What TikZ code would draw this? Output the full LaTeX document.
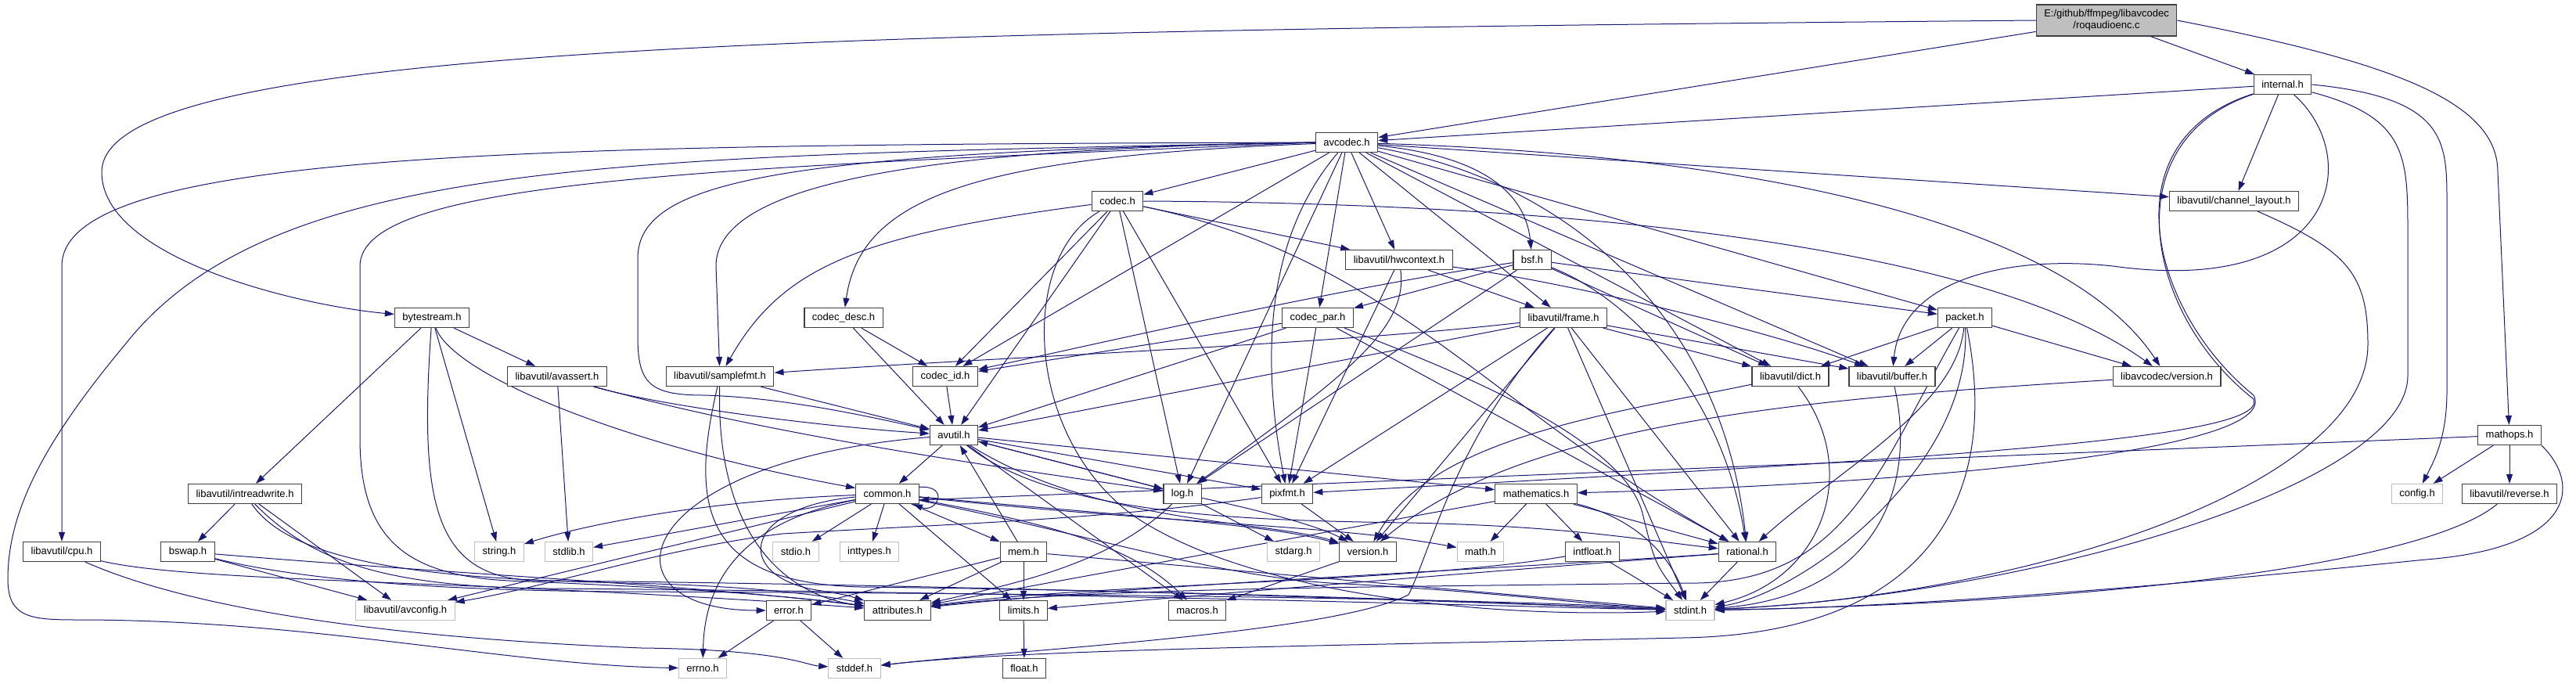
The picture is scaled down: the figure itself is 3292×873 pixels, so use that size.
\documentclass[tikz,border=0pt]{standalone}
\usepackage{fontspec}
\setmainfont{Liberation Sans}
\usepackage{xcolor}
\definecolor{edgeblue}{HTML}{191970}
\definecolor{nodeline}{HTML}{404040}
\definecolor{sysline}{HTML}{BFBFBF}
\definecolor{rootfill}{HTML}{BFBFBF}
\usepackage{tikz}
\usetikzlibrary{arrows.meta}
\pgfdeclarelayer{edges}
\pgfsetlayers{edges,main}

\begin{document}
\begin{tikzpicture}[
  x=1pt, y=-1pt,
  box/.style={draw=nodeline, fill=white, line width=1.2pt,
              font=\fontsize{13}{15}\selectfont,
              inner xsep=10pt, inner ysep=0pt, minimum height=25pt},
  sysbox/.style={box, draw=sysline},
  rootbox/.style={box, fill=rootfill, align=center, minimum height=40pt},
  arr/.style={->, >={Triangle[length=12pt, width=8pt]}, color=edgeblue, line width=1pt}
]
  \useasboundingbox (0,0) rectangle (3292,873);

  \node[rootbox] (root) at (2692,26) {E:/github/ffmpeg/libavcodec\\/roqaudioenc.c};
  \node[box] (intl)  at (2917,108) {internal.h};
  \node[box] (avc)   at (1721,182) {avcodec.h};
  \node[box] (cdc)   at (1428,257) {codec.h};
  \node[box] (chl)   at (2855,257) {libavutil/channel\_layout.h};
  \node[box] (hw)    at (1788,332) {libavutil/hwcontext.h};
  \node[box] (bsf)   at (1958,332) {bsf.h};
  \node[box] (bs)    at (552,406)  {bytestream.h};
  \node[box] (cdesc) at (1078,406) {codec\_desc.h};
  \node[box] (cpar)  at (1684,406) {codec\_par.h};
  \node[box] (frm)   at (1998,406) {libavutil/frame.h};
  \node[box] (pkt)   at (2511,406) {packet.h};
  \node[box] (asrt)  at (712,481)  {libavutil/avassert.h};
  \node[box] (sfmt)  at (920,481)  {libavutil/samplefmt.h};
  \node[box] (cid)   at (1208,481) {codec\_id.h};
  \node[box] (dict)  at (2288,481) {libavutil/dict.h};
  \node[box] (buf)   at (2418,481) {libavutil/buffer.h};
  \node[box] (lver)  at (2769,481) {libavcodec/version.h};
  \node[box] (avu)   at (1219,556) {avutil.h};
  \node[box] (mops)  at (3207,556) {mathops.h};
  \node[box] (irw)   at (313,631)  {libavutil/intreadwrite.h};
  \node[box] (cmn)   at (1134,631) {common.h};
  \node[box] (log)   at (1511,631) {log.h};
  \node[box] (pix)   at (1645,631) {pixfmt.h};
  \node[box] (mth)   at (1963,631) {mathematics.h};
  \node[sysbox] (cfg) at (3089,631) {config.h};
  \node[box] (rev)   at (3207,631) {libavutil/reverse.h};
  \node[box] (cpu)   at (79,705)   {libavutil/cpu.h};
  \node[box] (bsw)   at (240,705)  {bswap.h};
  \node[sysbox] (str)  at (638,705)  {string.h};
  \node[sysbox] (slib) at (727,705)  {stdlib.h};
  \node[sysbox] (sio)  at (1017,705) {stdio.h};
  \node[sysbox] (ity)  at (1111,705) {inttypes.h};
  \node[box] (mem)   at (1308,705) {mem.h};
  \node[sysbox] (sarg) at (1653,705) {stdarg.h};
  \node[box] (ver)   at (1748,705) {version.h};
  \node[sysbox] (math) at (1892,705) {math.h};
  \node[box] (iflt)  at (2035,705) {intfloat.h};
  \node[box] (rat)   at (2233,705) {rational.h};
  \node[sysbox] (acfg) at (518,780)  {libavutil/avconfig.h};
  \node[box] (err)   at (1008,780) {error.h};
  \node[box] (attr)  at (1147,780) {attributes.h};
  \node[box] (lim)   at (1308,780) {limits.h};
  \node[box] (mac)   at (1530,780) {macros.h};
  \node[sysbox] (sint) at (2160,780) {stdint.h};
  \node[sysbox] (eno)  at (898,854)  {errno.h};
  \node[sysbox] (sdef) at (1092,854) {stddef.h};
  \node[box] (flt)   at (1309,854) {float.h};

  \begin{pgfonlayer}{edges}
  \draw[arr] (root) -- (avc);
  \draw[arr] (root) -- (intl);
  \draw[arr] (root.west) .. controls (1000,40) and (130,60) .. (130,220) .. controls (130,330) and (380,390) .. (bs);
  \draw[arr] (root.east) .. controls (3060,80) and (3192,130) .. (3192,220) -- (mops);

  \draw[arr] (intl) -- (avc);
  \draw[arr] (intl) -- (chl);
  \draw[arr] (intl) .. controls (2700,180) and (2740,400) .. (2880,510) .. controls (2900,560) and (2500,585) .. (pix);
  \draw[arr] (intl) .. controls (2690,180) and (2750,400) .. (2880,505) .. controls (2920,580) and (2400,620) .. (mth);
  \draw[arr] (intl) .. controls (3020,200) and (2990,380) .. (2700,340) .. controls (2560,325) and (2430,360) .. (buf);
  \draw[arr] (intl) .. controls (3077,150) and (3077,200) .. (3077,300) -- (3077,480) .. controls (3077,620) and (2600,760) .. (sint);
  \draw[arr] (intl.east) .. controls (3127,125) and (3127,180) .. (3127,260) -- (3127,500) .. controls (3127,560) and (3110,590) .. (cfg);

  \draw[arr] (avc) -- (cdc);
  \draw[arr] (avc) .. controls (1250,200) and (1100,250) .. (cdesc);
  \draw[arr] (avc) -- (cid);
  \draw[arr] (avc) -- (cpar);
  \draw[arr] (avc) -- (hw);
  \draw[arr] (avc) .. controls (1900,200) and (1950,250) .. (bsf);
  \draw[arr] (avc) -- (frm);
  \draw[arr] (avc) -- (log);
  \draw[arr] (avc) .. controls (1620,300) and (1610,450) .. (pix);
  \draw[arr] (avc) .. controls (2000,230) and (2200,400) .. (rat);
  \draw[arr] (avc) -- (dict);
  \draw[arr] (avc) -- (buf);
  \draw[arr] (avc) -- (pkt);
  \draw[arr] (avc) .. controls (2300,200) and (2650,300) .. (lver);
  \draw[arr] (avc) -- (chl);
  \draw[arr] (avc.west) .. controls (700,185) and (79,190) .. (79,340) -- (cpu);
  \draw[arr] (avc.west) .. controls (800,200) and (350,200) .. (160,440) .. controls (60,560) and (10,650) .. (10,740) .. controls (10,790) and (40,792) .. (100,792) .. controls (400,792) and (650,850) .. (eno);
  \draw[arr] (avc.west) .. controls (900,215) and (460,230) .. (460,340) -- (460,560) .. controls (460,690) and (520,735) .. (650,742) .. controls (850,750) and (1000,760) .. (attr);
  \draw[arr] (avc.west) .. controls (1000,195) and (815,230) .. (815,330) -- (815,430) .. controls (815,490) and (830,505) .. (900,505) .. controls (1000,508) and (1100,530) .. (avu);
  \draw[arr] (avc.west) .. controls (1200,190) and (915,230) .. (915,340) -- (sfmt);

  \draw[arr] (cdc) -- (avu);
  \draw[arr] (cdc) -- (hw);
  \draw[arr] (cdc) -- (log);
  \draw[arr] (cdc) -- (pix);
  \draw[arr] (cdc) .. controls (1780,330) and (1900,520) .. (rat);
  \draw[arr] (cdc) .. controls (1100,300) and (1000,340) .. (sfmt);
  \draw[arr] (cdc) -- (cid);
  \draw[arr] (cdc.east) .. controls (2100,260) and (2560,330) .. (lver);
  \draw[arr] (cdc) .. controls (1300,330) and (1310,560) .. (1450,660) .. controls (1600,760) and (1900,790) .. (sint);

  \draw[arr] (bsf) -- (dict);
  \draw[arr] (bsf) -- (log);
  \draw[arr] (bsf) .. controls (2080,380) and (2200,500) .. (rat);
  \draw[arr] (bsf) .. controls (1700,370) and (1400,440) .. (cid);
  \draw[arr] (bsf) -- (cpar);
  \draw[arr] (bsf) -- (pkt);

  \draw[arr] (cdesc) -- (avu);
  \draw[arr] (cdesc) -- (cid);
  \draw[arr] (cid) -- (avu);

  \draw[arr] (cpar) -- (avu);
  \draw[arr] (cpar) -- (rat);
  \draw[arr] (cpar) -- (pix);
  \draw[arr] (cpar) -- (cid);
  \draw[arr] (cpar) .. controls (1850,470) and (2080,560) .. (2100,660) .. controls (2115,720) .. (sint);

  \draw[arr] (pkt) -- (dict);
  \draw[arr] (pkt) -- (buf);
  \draw[arr] (pkt) -- (lver);
  \draw[arr] (pkt) .. controls (2500,520) and (2350,600) .. (rat);
  \draw[arr] (pkt) .. controls (2400,600) and (2360,750) .. (2150,745) .. controls (1800,750) and (1400,750) .. (attr);
  \draw[arr] (pkt) .. controls (2520,600) and (2300,760) .. (sint);
  \draw[arr] (pkt) .. controls (2560,650) and (2450,810) .. (2150,815) .. controls (1700,825) and (1300,830) .. (sdef);

  \draw[arr] (lver) .. controls (2300,510) and (1950,540) .. (ver);

  \draw[arr] (bs) -- (irw);
  \draw[arr] (bs) -- (str);
  \draw[arr] (bs) -- (asrt);
  \draw[arr] (bs) .. controls (580,480) and (800,570) .. (cmn);
  \draw[arr] (bs) .. controls (535,650) and (555,745) .. (700,742) .. controls (1300,748) and (1900,770) .. (sint);

  \draw[arr] (mops) -- ([yshift=-8pt]cmn.east);
  \draw[arr] (mops) -- (cfg);
  \draw[arr] (mops) -- (rev);
  \draw[arr] (mops.south east) .. controls (3300,620) and (3290,700) .. (3100,715) .. controls (2900,735) and (2500,775) .. (sint);
  \draw[arr] (rev) .. controls (3100,720) and (2700,770) .. (sint);

  \draw[arr] (asrt) -- (slib);
  \draw[arr] (asrt) .. controls (850,520) and (1050,545) .. (avu);
  \draw[arr] (asrt) .. controls (1000,560) and (1300,600) .. (log);

  \draw[arr] (irw) -- (bsw);
  \draw[arr] (irw) -- (acfg);
  \draw[arr] (irw) .. controls (380,730) and (600,740) .. (800,745) .. controls (950,748) and (1050,760) .. (attr);
  \draw[arr] (irw) .. controls (400,720) and (500,750) .. (700,752) .. controls (1300,756) and (1900,774) .. (sint);

  \draw[arr] (bsw) -- (acfg);
  \draw[arr] (bsw) .. controls (600,735) and (900,748) .. (attr);
  \draw[arr] (bsw) .. controls (400,745) and (600,755) .. (800,756) .. controls (1300,758) and (1900,764) .. (sint);

  \draw[arr] (cpu) .. controls (250,745) and (600,740) .. (attr);
  \draw[arr] (cpu) .. controls (250,780) and (500,815) .. (820,828) .. controls (1000,830) and (1030,850) .. (sdef);

  \draw[arr] (sfmt) -- (avu);
  \draw[arr] (sfmt) .. controls (915,680) and (1000,760) .. (attr);
  \draw[arr] (sfmt) .. controls (880,650) and (900,745) .. (1100,750) .. controls (1600,756) and (1950,772) .. (sint);

  \draw[arr] (avu) -- (cmn);
  \draw[arr] (avu) .. controls (800,590) and (760,780) .. (err);
  \draw[arr] (avu) .. controls (1350,660) and (1600,665) .. (1800,668) .. controls (2000,672) and (2100,690) .. (rat);
  \draw[arr] (avu) .. controls (1400,670) and (1620,665) .. (ver);
  \draw[arr] (avu) -- (mac);
  \draw[arr] (avu) -- (mth);
  \draw[arr] (avu) -- (log);
  \draw[arr] (avu) -- (pix);

  \draw[arr] (cmn) .. controls (930,670) and (900,760) .. (eno);
  \draw[arr] (cmn) -- (ity);
  \draw[arr] (cmn) -- (lim);
  \draw[arr] (cmn) .. controls (1500,670) and (1700,670) .. (math);
  \draw[arr] (cmn) .. controls (1400,685) and (1550,735) .. (1700,745) .. controls (1900,755) and (2000,770) .. (sint);
  \draw[arr] (cmn) -- (sio);
  \draw[arr] (cmn) -- (slib);
  \draw[arr] (cmn) .. controls (900,640) and (750,670) .. (str);
  \draw[arr] (cmn) .. controls (940,650) and (940,740) .. (1050,755) .. controls (1080,760) .. (attr);
  \draw[arr] (cmn) .. controls (1350,670) and (1450,700) .. (mac);
  \draw[arr] (cmn) .. controls (1450,660) and (1620,670) .. (ver);
  \draw[arr] (cmn) -- (acfg);
  \draw[arr] (cmn) -- (mem);
  \draw[arr] (cmn.12) .. controls +(40,-2) and +(30,12) .. ([xshift=-8pt]cmn.south east);

  \draw[arr] (mem) -- (avu);
  \draw[arr] (mem) -- (err);
  \draw[arr] (mem) -- (attr);
  \draw[arr] (mem) -- (lim);
  \draw[arr] (mem) -- (sint);

  \draw[arr] (lim) -- (flt);
  \draw[arr] (err) -- (eno);
  \draw[arr] (err) -- (sdef);

  \draw[arr] (log) -- (avu);
  \draw[arr] (log) .. controls (1420,720) and (1300,745) .. (attr);
  \draw[arr] (log) .. controls (1600,650) and (1680,670) .. (ver);
  \draw[arr] (log) -- (sarg);

  \draw[arr] (pix) .. controls (1400,665) and (1200,670) .. (1000,682) .. controls (850,700) and (700,750) .. (acfg);
  \draw[arr] (pix) -- (ver);

  \draw[arr] (mth) -- (math);
  \draw[arr] (mth) -- (attr);
  \draw[arr] (mth) -- (rat);
  \draw[arr] (mth) -- (iflt);
  \draw[arr] (mth) .. controls (2080,660) and (2130,700) .. (sint);

  \draw[arr] (iflt) -- (sint);
  \draw[arr] (iflt) .. controls (1800,745) and (1400,745) .. (attr);

  \draw[arr] (rat) -- (sint);
  \draw[arr] (rat) .. controls (1900,730) and (1600,755) .. (lim);
  \draw[arr] (rat) .. controls (1900,728) and (1450,748) .. (attr);

  \draw[arr] (ver) -- (mac);

  \draw[arr] (dict) .. controls (2050,530) and (1830,560) .. (ver);
  \draw[arr] (dict) .. controls (2380,600) and (2330,740) .. (sint);
  \draw[arr] (buf) .. controls (2450,620) and (2400,760) .. (sint);

  \draw[arr] (frm) -- (avu);
  \draw[arr] (frm) -- (buf);
  \draw[arr] (frm) -- (dict);
  \draw[arr] (frm) -- (rat);
  \draw[arr] (frm) .. controls (1700,440) and (1300,455) .. (sfmt);
  \draw[arr] (frm) -- (pix);
  \draw[arr] (frm) -- (ver);
  \draw[arr] (frm) .. controls (1860,560) and (1830,700) .. (1800,760) .. controls (1700,810) and (1300,830) .. (sdef);
  \draw[arr] (frm) -- (sint);

  \draw[arr] (hw) .. controls (2000,360) and (2250,420) .. (buf);
  \draw[arr] (hw) -- (frm);
  \draw[arr] (hw) .. controls (1800,420) and (1720,480) .. (log);
  \draw[arr] (hw) -- (pix);

  \draw[arr] (chl) .. controls (3000,320) and (3026,350) .. (3026,440) .. controls (3026,620) and (2600,760) .. (sint);
  \end{pgfonlayer}
\end{tikzpicture}
\end{document}
